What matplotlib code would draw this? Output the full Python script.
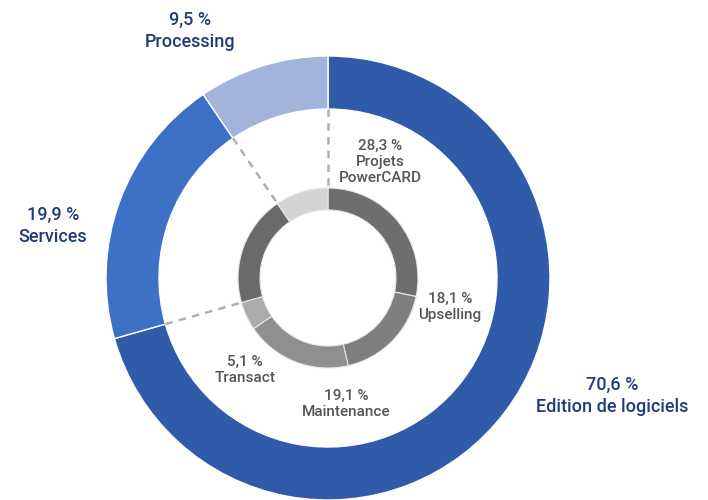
import numpy as np
import matplotlib
matplotlib.use("Agg")
import matplotlib.pyplot as plt

plt.rcParams['font.family'] = ['Roboto', 'DejaVu Sans']

# outer ring: business lines (%)
outer_labels = ['Edition de logiciels', 'Services', 'Processing']
outer_values = [70.6, 19.9, 9.5]
outer_colors = ['#2f5ba8', '#3e70c6', '#a3b4dc']

# inner ring: breakdown of software edition, rest greyed out
inner_labels = ['Projets\nPowerCARD', 'Upselling', 'Maintenance', 'Transact', '', '']
inner_values = [28.3, 18.1, 19.1, 5.1, 19.9, 9.5]
inner_colors = ['#6e6e6e', '#7f7f7f', '#8f8f8f', '#ababab', '#6a6a6a', '#d4d4d4']

fig = plt.figure(figsize=(7.08, 5.0), dpi=100)
ax = fig.add_axes([0, 0, 1, 1])

cx, cy = 328, 222
R_out, W_out = 222, 53
R_in, W_in = 90, 22

ax.pie(outer_values, radius=R_out, center=(cx, cy), colors=outer_colors,
       startangle=90, counterclock=False, frame=True,
       wedgeprops=dict(width=W_out, edgecolor='white', linewidth=1))
ax.pie(inner_values, radius=R_in, center=(cx, cy), colors=inner_colors,
       startangle=90, counterclock=False, frame=True,
       wedgeprops=dict(width=W_in, edgecolor='#e8e8e8', linewidth=0.8))
ax.set_xlim(0, 708)
ax.set_ylim(0, 500)
ax.set_aspect('equal')
ax.axis('off')

# dashed links between outer segment boundaries and the inner ring
bounds = np.concatenate([[0], np.cumsum(outer_values)[:-1]])
for b in bounds:
    ang = np.deg2rad(90 - b / 100 * 360)
    r0, r1 = R_out - W_out, R_in
    ax.plot([cx + r0 * np.cos(ang), cx + r1 * np.cos(ang)],
            [cy + r0 * np.sin(ang), cy + r1 * np.sin(ang)],
            color='#b0b0b0', lw=1.8, ls=(0, (3, 2.5)), zorder=3)

def fmt(v):
    return f"{v:.1f}".replace('.', ',') + ' %'

# label positions in figure pixels (top-left origin)
outer_pos = [(612, 396), (53, 226), (190, 31)]
inner_pos = [(380, 162), (450, 307), (346, 404), (245, 370)]

navy = '#1f3c78'
for lab, v, (x, y) in zip(outer_labels, outer_values, outer_pos):
    ax.text(x, 500 - y, fmt(v) + '\n' + lab, ha='center', va='center',
            fontsize=13, fontweight='medium', color=navy, linespacing=1.3)

for lab, v, (x, y) in zip(inner_labels, inner_values, inner_pos):
    ax.text(x, 500 - y, fmt(v) + '\n' + lab, ha='center', va='center',
            fontsize=11, fontweight='medium', color='#555555', linespacing=1.15)

fig.savefig('out.png', dpi=100)
